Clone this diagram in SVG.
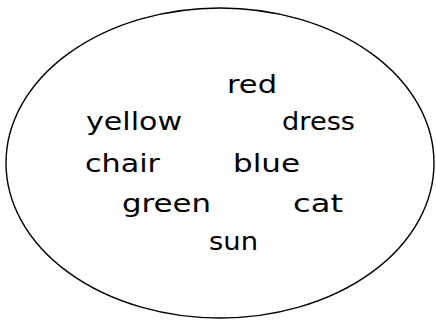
<svg xmlns="http://www.w3.org/2000/svg" width="436" height="320" viewBox="0 0 436 320">
<style>
.w{font-family:"DejaVu Sans","Liberation Sans",sans-serif;font-size:25px;fill:#000;text-anchor:middle}
</style>
<rect width="436" height="320" fill="#fff"/>
<g id="set">
<ellipse cx="220" cy="163" rx="214" ry="155" fill="none" stroke="#000" stroke-width="1.4"/>
</g>
<g id="red"><text class="w" x="252" y="93" textLength="50" lengthAdjust="spacingAndGlyphs">red</text></g>
<g id="yellow"><text class="w" x="134" y="130" textLength="96" lengthAdjust="spacingAndGlyphs">yellow</text></g>
<g id="dress"><text class="w" x="318.5" y="130" textLength="73" lengthAdjust="spacingAndGlyphs">dress</text></g>
<g id="chair"><text class="w" x="122.5" y="172" textLength="75" lengthAdjust="spacingAndGlyphs">chair</text></g>
<g id="blue"><text class="w" x="266.5" y="172" textLength="67" lengthAdjust="spacingAndGlyphs">blue</text></g>
<g id="green"><text class="w" x="166.5" y="212" textLength="89" lengthAdjust="spacingAndGlyphs">green</text></g>
<g id="cat"><text class="w" x="318" y="212" textLength="50" lengthAdjust="spacingAndGlyphs">cat</text></g>
<g id="sun"><text class="w" x="233.5" y="250" textLength="49" lengthAdjust="spacingAndGlyphs">sun</text></g>
</svg>
